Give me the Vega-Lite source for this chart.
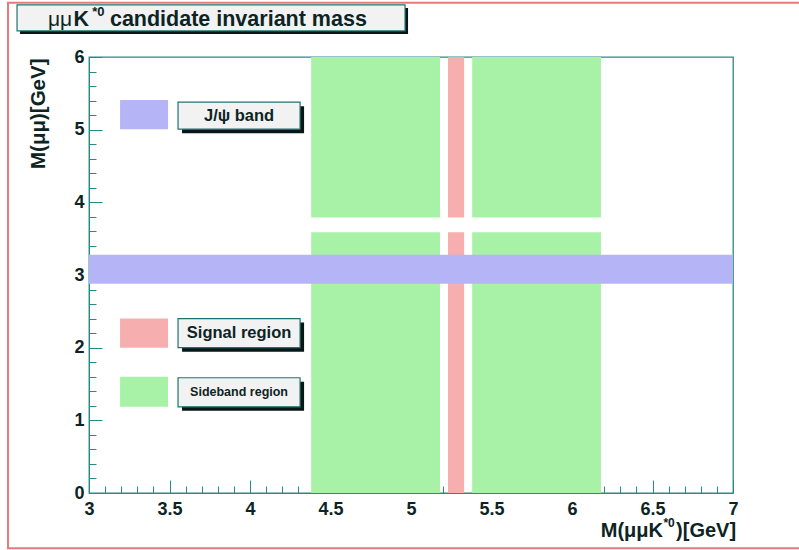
{
  "$schema": "https://vega.github.io/schema/vega-lite/v6.json",
  "width": 644,
  "height": 436,
  "autosize": {"type": "none"},
  "padding": {"left": 89, "top": 57, "right": 66, "bottom": 57},
  "background": "white",
  "config": {
    "font": "Liberation Sans",
    "view": {"stroke": "#2a8a8a", "strokeWidth": 1.3}
  },
  "resolve": {"axis": {"x": "independent", "y": "independent"}},
  "datasets": {
    "regions": [
      {"region": "Sideband region", "xmin": 4.38, "xmax": 5.18, "ymin": 0, "ymax": 3.59},
      {"region": "Sideband region", "xmin": 4.38, "xmax": 5.18, "ymin": 3.79, "ymax": 6},
      {"region": "Sideband region", "xmin": 5.38, "xmax": 6.18, "ymin": 0, "ymax": 3.59},
      {"region": "Sideband region", "xmin": 5.38, "xmax": 6.18, "ymin": 3.79, "ymax": 6},
      {"region": "Signal region", "xmin": 5.23, "xmax": 5.33, "ymin": 0, "ymax": 3.59},
      {"region": "Signal region", "xmin": 5.23, "xmax": 5.33, "ymin": 3.79, "ymax": 6},
      {"region": "J/ψ band", "xmin": 3, "xmax": 7, "ymin": 2.88, "ymax": 3.28}
    ],
    "legend": [
      {"region": "J/ψ band", "label": "J/ψ band", "sx1": 3.193, "sx2": 3.491, "sy1": 5.007, "sy2": 5.407, "bx1": 3.553, "bx2": 4.311, "by1": 5.007, "by2": 5.379, "tx": 3.932, "ty": 5.193},
      {"region": "Signal region", "label": "Signal region", "sx1": 3.193, "sx2": 3.491, "sy1": 2.0, "sy2": 2.4, "bx1": 3.553, "bx2": 4.311, "by1": 2.0, "by2": 2.4, "tx": 3.932, "ty": 2.2},
      {"region": "Sideband region", "label": "Sideband region", "sx1": 3.193, "sx2": 3.491, "sy1": 1.186, "sy2": 1.6, "bx1": 3.553, "bx2": 4.311, "by1": 1.186, "by2": 1.586, "tx": 3.932, "ty": 1.386}
    ],
    "titlebox": [{"x1": 2.553, "x2": 4.963, "y1": 6.359, "y2": 6.717}],
    "frame": [{"x1": 2.497, "x2": 7.6, "y1": -0.759, "y2": 6.745}],
    "titlemu": [{"t": "μμ", "x": 2.745, "y": 6.43}],
    "titlemain": [{"t": "K", "x": 2.903, "y": 6.43}, {"t": "candidate invariant mass", "x": 3.13, "y": 6.43}],
    "titlesup": [{"t": "*0", "x": 3.02, "y": 6.56}],
    "xtitleleft": [{"t": "M(μμK", "x": 6.565, "y": -0.6}],
    "xtitlesup": [{"t": "*0", "x": 6.568, "y": -0.462}],
    "xtitleright": [{"t": ")[GeV]", "x": 7.019, "y": -0.6}]
  },
  "layer": [
    {
      "data": {"name": "regions"},
      "mark": {"type": "rect"},
      "encoding": {
        "x": {
          "field": "xmin", "type": "quantitative",
          "scale": {"domain": [3, 7], "nice": false, "zero": false},
          "axis": {
            "orient": "bottom",
            "values": [3,3.1,3.2,3.3,3.4,3.5,3.6,3.7,3.8,3.9,4,4.1,4.2,4.3,4.4,4.5,4.6,4.7,4.8,4.9,5,5.1,5.2,5.3,5.4,5.5,5.6,5.7,5.8,5.9,6,6.1,6.2,6.3,6.4,6.5,6.6,6.7,6.8,6.9,7],
            "labelExpr": "datum.value % 0.5 === 0 ? '' + datum.value : ''",
            "tickSize": {"condition": {"test": "datum.value % 0.5 === 0", "value": -13}, "value": -7},
            "labelPadding": 20,
            "labelFlush": false,
            "labelOverlap": false,
            "labelFontSize": 18,
            "labelFontWeight": "bold",
            "labelColor": "#0d2424",
            "domainColor": "#2a8a8a",
            "tickColor": "#2a8a8a",
            "grid": false,
            "title": null
          }
        },
        "x2": {"field": "xmax"},
        "y": {
          "field": "ymin", "type": "quantitative",
          "scale": {"domain": [0, 6], "nice": false, "zero": false},
          "axis": {
            "orient": "left",
            "values": [0,0.2,0.4,0.6,0.8,1,1.2,1.4,1.6,1.8,2,2.2,2.4,2.6,2.8,3,3.2,3.4,3.6,3.8,4,4.2,4.4,4.6,4.8,5,5.2,5.4,5.6,5.8,6],
            "labelExpr": "datum.value % 1 === 0 ? '' + datum.value : ''",
            "tickSize": {"condition": {"test": "datum.value % 1 === 0", "value": -13}, "value": -7},
            "labelPadding": 18,
            "labelFlush": false,
            "labelOverlap": false,
            "labelFontSize": 18,
            "labelFontWeight": "bold",
            "labelColor": "#0d2424",
            "domainColor": "#2a8a8a",
            "tickColor": "#2a8a8a",
            "grid": false,
            "title": "M(μμ)[GeV]",
            "titleFontSize": 20.5,
            "titleFontWeight": "bold",
            "titleColor": "#0d2424",
            "titleAngle": 270,
            "titleAnchor": "end",
            "titleAlign": "right",
            "titleBaseline": "middle",
            "titleX": -51,
            "titleY": 1
          }
        },
        "y2": {"field": "ymax"},
        "color": {
          "field": "region", "type": "nominal",
          "scale": {"domain": ["Sideband region", "Signal region", "J/ψ band"], "range": ["#a8f2a8", "#f6aeae", "#b4b4f6"]},
          "legend": null
        }
      }
    },
    {
      "data": {"name": "legend"},
      "mark": {"type": "rect"},
      "encoding": {
        "x": {"field": "sx1", "type": "quantitative", "axis": null},
        "x2": {"field": "sx2"},
        "y": {"field": "sy1", "type": "quantitative", "axis": null},
        "y2": {"field": "sy2"},
        "color": {"field": "region", "type": "nominal", "legend": null}
      }
    },
    {
      "data": {"name": "legend"},
      "mark": {"type": "rect", "fill": "#0a1616", "xOffset": 4, "x2Offset": 4, "yOffset": 4, "y2Offset": 4},
      "encoding": {
        "x": {"field": "bx1", "type": "quantitative", "axis": null},
        "x2": {"field": "bx2"},
        "y": {"field": "by1", "type": "quantitative", "axis": null},
        "y2": {"field": "by2"}
      }
    },
    {
      "data": {"name": "legend"},
      "mark": {"type": "rect", "fill": "#f2f2f2", "stroke": "#1d7474", "strokeWidth": 1.2},
      "encoding": {
        "x": {"field": "bx1", "type": "quantitative", "axis": null},
        "x2": {"field": "bx2"},
        "y": {"field": "by1", "type": "quantitative", "axis": null},
        "y2": {"field": "by2"}
      }
    },
    {
      "data": {"name": "legend"},
      "mark": {"type": "text", "fontWeight": "bold", "align": "center", "baseline": "middle", "color": "#0d2424"},
      "encoding": {
        "x": {"field": "tx", "type": "quantitative", "axis": null},
        "y": {"field": "ty", "type": "quantitative", "axis": null},
        "text": {"field": "label"},
        "size": {"condition": {"test": "datum.label === 'Sideband region'", "value": 12.5}, "value": 16.5}
      }
    },
    {
      "data": {"name": "titlebox"},
      "mark": {"type": "rect", "fill": "#0a1616", "xOffset": 3, "x2Offset": 3, "yOffset": 3, "y2Offset": 3},
      "encoding": {
        "x": {"field": "x1", "type": "quantitative", "axis": null},
        "x2": {"field": "x2"},
        "y": {"field": "y1", "type": "quantitative", "axis": null},
        "y2": {"field": "y2"}
      }
    },
    {
      "data": {"name": "titlebox"},
      "mark": {"type": "rect", "fill": "#f2f2f2", "stroke": "#1d7474", "strokeWidth": 1.2},
      "encoding": {
        "x": {"field": "x1", "type": "quantitative", "axis": null},
        "x2": {"field": "x2"},
        "y": {"field": "y1", "type": "quantitative", "axis": null},
        "y2": {"field": "y2"}
      }
    },
    {
      "data": {"name": "titlemu"},
      "mark": {"type": "text", "align": "left", "baseline": "alphabetic", "fontSize": 21, "color": "#0d2424"},
      "encoding": {
        "x": {"field": "x", "type": "quantitative", "axis": null},
        "y": {"field": "y", "type": "quantitative", "axis": null},
        "text": {"field": "t"}
      }
    },
    {
      "data": {"name": "titlemain"},
      "mark": {"type": "text", "align": "left", "baseline": "alphabetic", "fontSize": 21.5, "fontWeight": "bold", "color": "#0d2424"},
      "encoding": {
        "x": {"field": "x", "type": "quantitative", "axis": null},
        "y": {"field": "y", "type": "quantitative", "axis": null},
        "text": {"field": "t"}
      }
    },
    {
      "data": {"name": "titlesup"},
      "mark": {"type": "text", "align": "left", "baseline": "alphabetic", "fontSize": 13, "fontWeight": "bold", "color": "#0d2424"},
      "encoding": {
        "x": {"field": "x", "type": "quantitative", "axis": null},
        "y": {"field": "y", "type": "quantitative", "axis": null},
        "text": {"field": "t"}
      }
    },
    {
      "data": {"name": "xtitleleft"},
      "mark": {"type": "text", "align": "right", "baseline": "alphabetic", "fontSize": 20, "fontWeight": "bold", "color": "#0d2424"},
      "encoding": {
        "x": {"field": "x", "type": "quantitative", "axis": null},
        "y": {"field": "y", "type": "quantitative", "axis": null},
        "text": {"field": "t"}
      }
    },
    {
      "data": {"name": "xtitlesup"},
      "mark": {"type": "text", "align": "left", "baseline": "alphabetic", "fontSize": 12, "fontWeight": "bold", "color": "#0d2424"},
      "encoding": {
        "x": {"field": "x", "type": "quantitative", "axis": null},
        "y": {"field": "y", "type": "quantitative", "axis": null},
        "text": {"field": "t"}
      }
    },
    {
      "data": {"name": "xtitleright"},
      "mark": {"type": "text", "align": "right", "baseline": "alphabetic", "fontSize": 20, "fontWeight": "bold", "color": "#0d2424"},
      "encoding": {
        "x": {"field": "x", "type": "quantitative", "axis": null},
        "y": {"field": "y", "type": "quantitative", "axis": null},
        "text": {"field": "t"}
      }
    },
    {
      "data": {"name": "frame"},
      "mark": {"type": "rect", "fill": null, "fillOpacity": 0, "stroke": "#e77a7a", "strokeWidth": 2},
      "encoding": {
        "x": {"field": "x1", "type": "quantitative", "axis": null},
        "x2": {"field": "x2"},
        "y": {"field": "y1", "type": "quantitative", "axis": null},
        "y2": {"field": "y2"}
      }
    }
  ]
}
